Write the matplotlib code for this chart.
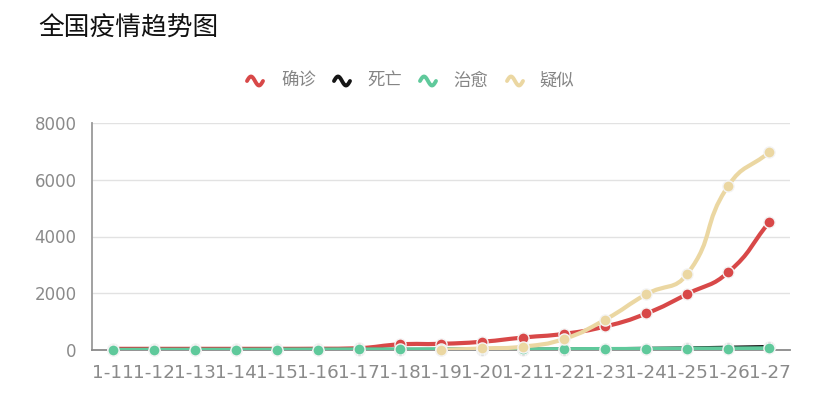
import numpy as np
import matplotlib
matplotlib.use("Agg")
import matplotlib.pyplot as plt
from matplotlib.path import Path
from matplotlib.patches import PathPatch
from matplotlib.lines import Line2D

plt.rcParams['font.family'] = ['Noto Sans CJK SC', 'DejaVu Sans']

dates = ["1-11", "1-12", "1-13", "1-14", "1-15", "1-16", "1-17", "1-18", "1-19",
         "1-20", "1-21", "1-22", "1-23", "1-24", "1-25", "1-26", "1-27"]
confirmed = [41, 41, 41, 41, 41, 45, 62, 198, 218, 291, 440, 571, 830, 1287, 1975, 2744, 4515]
dead = [1, 1, 1, 1, 2, 2, 2, 3, 4, 6, 9, 17, 25, 41, 56, 80, 106]
cured = [2, 6, 7, 7, 12, 15, 19, 19, 25, 25, 25, 28, 34, 38, 49, 51, 60]
suspect = [None] * 8 + [0, 54, 120, 393, 1072, 1965, 2684, 5794, 6973]

series_names = ["确诊", "死亡", "治愈", "疑似"]
series_colors = ["#d84848", "#151515", "#5fc99b", "#ebd7a2"]
series_data = [confirmed, dead, cured, suspect]
yticks = [0, 2000, 4000, 6000, 8000]

W, H = 828, 408
fig = plt.figure(figsize=(W / 100, H / 100), dpi=100)
ax = fig.add_axes([92 / W, 1 - 350 / H, (790 - 92) / W, (350 - 123) / H])
ax.set_xlim(-0.5, len(dates) - 0.5)
ax.set_ylim(0, 8000)
ax.set_yticks(yticks)
ax.set_yticklabels([str(v) for v in yticks], fontsize=12, color="#8a8a8a",
                   family="DejaVu Sans")
ax.set_xticks(range(len(dates)))
ax.set_xticklabels(dates, fontsize=13.2, color="#8a8a8a", family="DejaVu Sans")
ax.tick_params(axis="both", length=0)
ax.tick_params(axis="y", pad=11)
ax.tick_params(axis="x", pad=10)
for s in ["top", "right"]:
    ax.spines[s].set_visible(False)
ax.spines["left"].set_color("#9a9a9a")
ax.spines["left"].set_linewidth(1.3)
ax.spines["bottom"].set_color("#8a8a8a")
ax.spines["bottom"].set_linewidth(1.3)
for v in yticks[1:]:
    ax.axhline(v, color="#e2e2e2", lw=1.0, zorder=0)


def smooth_path(xs, ys, smooth=0.5):
    pts = ax.transData.transform(np.column_stack([xs, ys]))
    n = len(pts)
    mn, mx = pts.min(axis=0), pts.max(axis=0)
    cps = []
    for i in range(n):
        p = pts[i]
        prev = pts[i - 1] if i > 0 else p
        nxt = pts[i + 1] if i < n - 1 else p
        v = nxt - prev
        d0 = np.hypot(*(p - prev))
        d1 = np.hypot(*(p - nxt))
        s = d0 + d1
        if s > 0:
            d0 /= s
            d1 /= s
        c0 = np.clip(p - v * smooth * d0, mn, mx)
        c1 = np.clip(p + v * smooth * d1, mn, mx)
        cps.append((c0, c1))
    verts = [pts[0]]
    codes = [Path.MOVETO]
    for i in range(n - 1):
        verts += [cps[i][1], cps[i + 1][0], pts[i + 1]]
        codes += [Path.CURVE4] * 3
    verts = ax.transData.inverted().transform(np.array(verts))
    return Path(verts, codes)


z = 3
for name, col, data in zip(series_names, series_colors, series_data):
    xs = [i for i, v in enumerate(data) if v is not None]
    ys = [v for v in data if v is not None]
    patch = PathPatch(smooth_path(xs, ys), facecolor="none", edgecolor=col,
                      lw=3.0, capstyle="round", joinstyle="round", zorder=z)
    ax.add_patch(patch)
    ax.plot(xs, ys, "o", ms=8, mfc=col, mec="#f4f4f4", mew=1.0, zorder=z + 0.5,
            clip_on=False)
    z += 1

# title
fig.text(38 / W, 1 - 29 / H, "全国疫情趋势图", fontsize=18.5, color="#111111",
         ha="left", va="center", fontweight="medium")

# legend
legend_y = 1 - 81 / H
icon_x = [247, 334, 420, 507]
text_x = [281, 367, 453, 539]
for name, col, ix, tx in zip(series_names, series_colors, icon_x, text_x):
    t = np.linspace(0, 1, 30)
    px = ix + t * 16
    py = 81 - 4.5 * np.sin(t * 2 * np.pi)
    fig.add_artist(Line2D(px / W, 1 - py / H, color=col, lw=2.8,
                          solid_capstyle="round"))
    fig.text(tx / W, legend_y, name, fontsize=12.5, color="#858585",
             ha="left", va="center")

fig.savefig("out.png", dpi=100)
